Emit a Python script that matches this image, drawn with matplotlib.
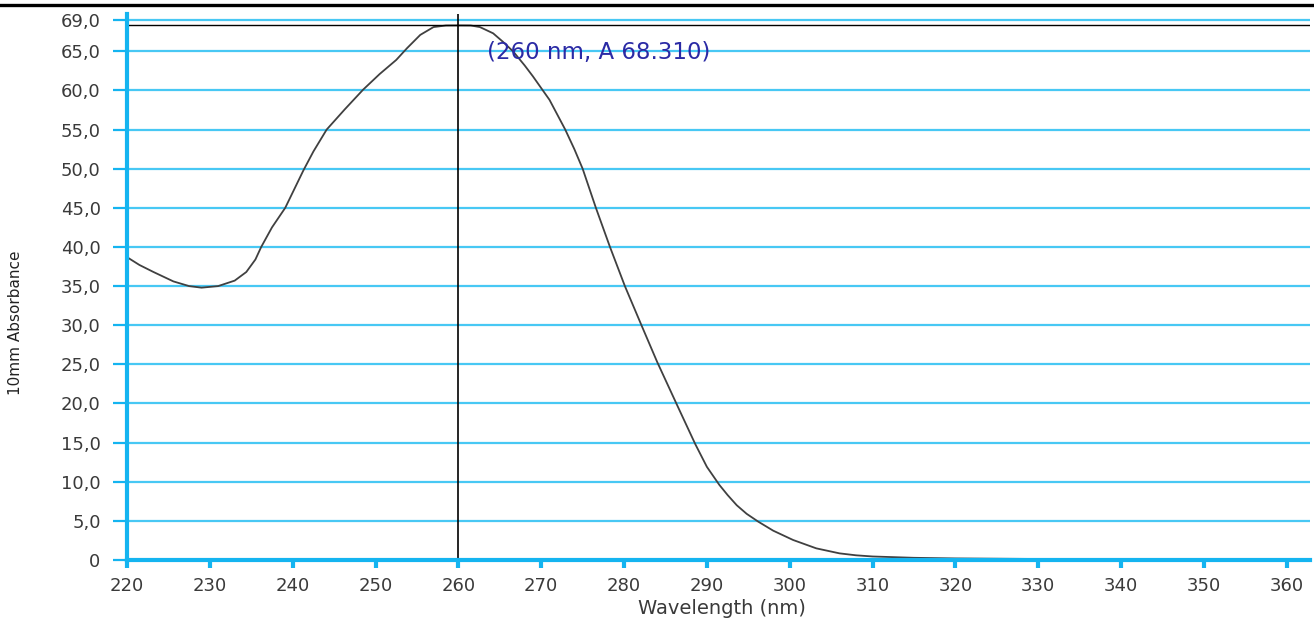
import numpy as np
from matplotlib import pyplot as plt
from matplotlib.lines import Line2D

# absorbance spectrum
wavelength = [220, 221.5, 223.2, 225.6, 227.5, 229, 231, 233, 234.4, 235.5,
              236.2, 237.5, 239.1, 240.2, 241.3, 242.5, 244.1, 246.3, 248.5,
              250.5, 252.5, 253.8, 255.4, 257.0, 258.5, 260, 261.5, 262.6,
              264.2, 265.4, 266.6, 268, 269.0, 271, 272.9, 274.0, 275.0,
              276.6, 278.3, 280.1, 282.1, 284.0, 286.4, 288.6, 290, 291.5,
              292.5, 293.6, 294.8, 296.2, 298, 300.4, 303.2, 306, 308, 310,
              315, 320, 330, 340, 350, 360]
absorbance = [38.7, 37.7, 36.8, 35.6, 35.0, 34.8, 35.0, 35.7, 36.8, 38.4,
              40.0, 42.5, 45.0, 47.4, 49.8, 52.2, 55.0, 57.6, 60.1,
              62.1, 63.9, 65.4, 67.1, 68.1, 68.3, 68.31, 68.3, 68.1,
              67.3, 66.2, 65.0, 63.2, 61.8, 58.8, 55.0, 52.5, 50.0,
              45.0, 40.0, 35.0, 30.0, 25.3, 19.8, 14.8, 11.9, 9.6,
              8.3, 7.0, 5.9, 4.9, 3.75, 2.56, 1.49, 0.85, 0.6, 0.45,
              0.28, 0.2, 0.13, 0.08, 0.04, 0.0]

peak_wavelength = 260
peak_absorbance = 68.310
cursor_label = '(260 nm, A 68.310)'

x_ticks = [220, 230, 240, 250, 260, 270, 280, 290, 300, 310, 320, 330, 340, 350, 360]
y_ticks = [0, 5, 10, 15, 20, 25, 30, 35, 40, 45, 50, 55, 60, 65, 69]
y_tick_labels = ['0', '5,0', '10,0', '15,0', '20,0', '25,0', '30,0', '35,0',
                 '40,0', '45,0', '50,0', '55,0', '60,0', '65,0', '69,0']

spine_color = '#14B4F0'
grid_color = '#48C8F4'
label_color = '#3a3a3a'

figure = plt.figure(figsize=(13.14, 6.19), dpi=100)
axes = figure.add_axes([127 / 1314, 1 - 560 / 619, 1183 / 1314, 546 / 619])

axes.set_xlim(220, 362.8)
axes.set_ylim(0, 69.77)

axes.set_xticks(x_ticks)
axes.set_yticks(y_ticks)
axes.set_yticklabels(y_tick_labels)

for side in ('top', 'right'):
    axes.spines[side].set_visible(False)
for side in ('left', 'bottom'):
    axes.spines[side].set_color(spine_color)
    axes.spines[side].set_linewidth(3)

axes.yaxis.grid(True, color=grid_color, linewidth=1.6)
axes.set_axisbelow(True)

axes.tick_params(axis='y', length=10, width=1.6, color=spine_color, pad=9,
                 labelsize=13, labelcolor=label_color)
axes.tick_params(axis='x', length=6, width=3, color=spine_color, pad=6,
                 labelsize=13, labelcolor=label_color)

axes.plot(wavelength, absorbance, color='#404040', linewidth=1.3)

# cursor lines at the peak
axes.axvline(peak_wavelength, color='black', linewidth=1.2)
axes.axhline(peak_absorbance, color='black', linewidth=1.0)
axes.text(263.45, 64.9, cursor_label, ha='left', va='center',
          fontsize=16.5, color='#2a2aa5')

axes.set_xlabel('Wavelength (nm)', fontsize=14, color=label_color)
axes.xaxis.set_label_coords((722 - 127) / 1183, -(609 - 560) / 546)
axes.xaxis.label.set_va('center')

axes.set_ylabel('10mm Absorbance', fontsize=11, color='#222222')
axes.yaxis.set_label_coords(-0.088, 0.434)

# dark rule along the top of the window
figure.add_artist(Line2D([0, 1], [1 - 4.7 / 619] * 2, color='black',
                         linewidth=2.4, transform=figure.transFigure))

figure.savefig('out.png', dpi=100)
